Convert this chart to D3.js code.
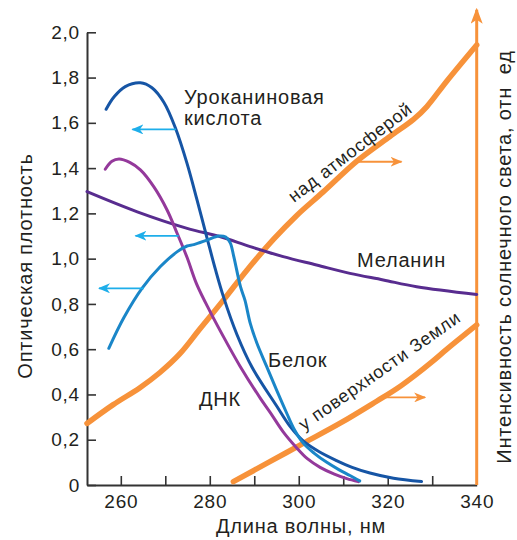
<!DOCTYPE html>
<html>
<head>
<meta charset="utf-8">
<script src="https://cdn.jsdelivr.net/npm/d3@7"></script>
<style>
  body { margin: 0; background: #fff; }
  svg text { font-family: "Liberation Sans", Arial, sans-serif; fill: #231f20; }
</style>
</head>
<body>
<svg id="chart" width="517" height="540"></svg>
<script>
// DATA: [wavelength nm, value]
const xTicks = [260, 270, 280, 290, 300, 310, 320, 330, 340]
const xLabels = [260, 280, 300, 320, 340]
const yTicks = [0, 0.2, 0.4, 0.6, 0.8, 1.0, 1.2, 1.4, 1.6, 1.8, 2.0]

const urocanic = [
  [256.7, 1.66], [258.5, 1.715], [261, 1.76], [264.4, 1.777], [267, 1.755],
  [269.7, 1.69], [272.3, 1.576], [274.9, 1.42], [277.1, 1.262], [279.4, 1.09],
  [281.3, 0.95], [283.1, 0.83], [286.1, 0.665], [289.5, 0.52], [295, 0.35],
  [298, 0.26], [301, 0.195], [304.5, 0.148], [308.5, 0.108], [312, 0.078],
  [316, 0.053], [321.3, 0.03], [327.6, 0.015],
]
const protein = [
  [257.3, 0.604], [260.7, 0.74], [264.8, 0.87], [268.9, 0.965], [272.7, 1.031],
  [274.9, 1.056], [276.4, 1.062], [279.4, 1.082], [282, 1.1], [283.6, 1.095],
  [284.6, 1.07], [285.4, 1.009], [286.9, 0.876], [287.9, 0.817], [289.1, 0.714],
  [290.6, 0.626], [292.8, 0.523], [295, 0.42], [297.3, 0.317], [299, 0.245],
  [301, 0.185], [303.5, 0.14], [306.3, 0.1], [309, 0.068], [311.5, 0.042],
  [313.7, 0.018],
]
const dna = [
  [256.5, 1.395], [258, 1.43], [259.6, 1.44], [262, 1.425], [264.4, 1.392],
  [267.4, 1.318], [270.4, 1.215], [272.7, 1.11], [274.9, 1.005], [277.1, 0.885],
  [280.1, 0.765], [283.5, 0.64], [286.8, 0.525], [291.3, 0.385], [293.6, 0.32],
  [296.5, 0.235], [299.5, 0.165], [302, 0.115], [304.8, 0.078], [308, 0.048],
  [310.8, 0.028], [313.4, 0.015],
]
const melanin = [
  [252.4, 1.296], [263.7, 1.207], [274.9, 1.134], [282.4, 1.097], [289.1, 1.053],
  [296.5, 1.009], [304, 0.972], [311.5, 0.935], [319, 0.906], [326.5, 0.876],
  [340, 0.842],
]
const aboveAtmosphere = [
  [252.4, 0.272], [258.3, 0.355], [264.3, 0.43], [268.8, 0.497], [273.3, 0.58],
  [277.8, 0.69], [283.1, 0.818], [288.3, 0.948], [294.3, 1.085], [299.5, 1.19],
  [305.5, 1.295], [313, 1.43], [320.5, 1.54], [325.8, 1.615], [328.8, 1.672],
  [333.3, 1.785], [340, 1.944],
]
const earthSurface = [
  [285.3, 0.015], [293.5, 0.103], [301, 0.184], [309.3, 0.273], [317.5, 0.37],
  [322, 0.425], [326.5, 0.49], [330, 0.545], [333.3, 0.6], [340, 0.707],
]

// arrows pointing to the axis each curve belongs to
const axisArrows = [
  { from: 272.4, to: 262.6, value: 1.571, kind: 'left' },
  { from: 273.0, to: 263.3, value: 1.101, kind: 'left' },
  { from: 265.2, to: 255.1, value: 0.869, kind: 'left' },
  { from: 313.4, to: 323.1, value: 1.428, kind: 'right' },
  { from: 319.0, to: 328.4, value: 0.387, kind: 'right' },
]

const orange = '#f7923a'
const cyan = '#1eaeea'

// SIZES
const margin = { top: 32.3, right: 40.3, bottom: 55, left: 87 }
const width = 517
const height = 540

const svg = d3.select('#chart')

// SCALES
const x = d3.scaleLinear()
  .domain([252.4, 340])
  .range([margin.left, width - margin.right])

const y = d3.scaleLinear()
  .domain([0, 2])
  .range([height - margin.bottom, margin.top])

// MARKERS
const defs = svg.append('defs')
const addMarker = (id, color) => {
  defs.append('marker')
    .attr('id', id)
    .attr('viewBox', '0 0 12 10')
    .attr('refX', 11)
    .attr('refY', 5)
    .attr('markerWidth', 12)
    .attr('markerHeight', 10)
    .attr('markerUnits', 'userSpaceOnUse')
    .attr('orient', 'auto')
    .append('path')
    .attr('d', 'M0,0 L12,5 L0,10 L3.5,5 Z')
    .attr('fill', color)
}
addMarker('arrowCyan', cyan)
addMarker('arrowOrange', orange)
defs.append('marker')
  .attr('id', 'arrowAxis')
  .attr('viewBox', '0 0 16 12')
  .attr('refX', 14)
  .attr('refY', 6)
  .attr('markerWidth', 16)
  .attr('markerHeight', 12)
  .attr('markerUnits', 'userSpaceOnUse')
  .attr('orient', 'auto')
  .append('path')
  .attr('d', 'M0,0 L16,6 L0,12 L4,6 Z')
  .attr('fill', orange)

// X AXIS
const xAxis = d3.axisBottom(x)
  .tickValues(xTicks)
  .tickSizeInner(-9)
  .tickSizeOuter(0)
  .tickPadding(9.5)
  .tickFormat(d => xLabels.includes(d) ? d : '')

const gx = svg.append('g')
  .attr('transform', `translate(0,${y(0)})`)
  .call(xAxis)
gx.select('.domain').attr('stroke', '#333').attr('stroke-width', 2)
gx.selectAll('.tick line').attr('stroke', '#333').attr('stroke-width', 1.6)
gx.selectAll('.tick text')
  .attr('fill', '#231f20')
  .style('font-size', '19px')
  .style('letter-spacing', '0.8px')
  .style('font-family', '"Liberation Sans", Arial, sans-serif')

// Y AXIS
const yAxis = d3.axisLeft(y)
  .tickValues(yTicks)
  .tickSizeInner(-9)
  .tickSizeOuter(0)
  .tickPadding(7)
  .tickFormat(d => d === 0 ? '0' : d3.format('.1f')(d).replace('.', ','))

const gy = svg.append('g')
  .attr('transform', `translate(${x(252.4)},0)`)
  .call(yAxis)
gy.select('.domain').attr('stroke', '#333').attr('stroke-width', 2)
gy.selectAll('.tick line').attr('stroke', '#333').attr('stroke-width', 1.6)
gy.selectAll('.tick text')
  .attr('fill', '#231f20')
  .style('font-size', '19px')
  .style('letter-spacing', '0.8px')
  .style('font-family', '"Liberation Sans", Arial, sans-serif')

// RIGHT (ORANGE) AXIS
svg.append('line')
  .attr('x1', x(340)).attr('x2', x(340))
  .attr('y1', y(0)).attr('y2', y(2.1))
  .attr('stroke', orange)
  .attr('stroke-width', 3)
  .attr('marker-end', 'url(#arrowAxis)')

// CURVES
const line = d3.line()
  .x(d => x(d[0]))
  .y(d => y(d[1]))
  .curve(d3.curveCatmullRom.alpha(0.5))

const series = [
  { data: aboveAtmosphere, color: orange, w: 5.5 },
  { data: earthSurface, color: orange, w: 5.5 },
  { data: melanin, color: '#582c8f', w: 3 },
  { data: dna, color: '#94399b', w: 3 },
  { data: urocanic, color: '#1655a5', w: 3 },
  { data: protein, color: '#1a86c8', w: 3 },
]

svg.append('g')
  .selectAll('path')
  .data(series)
  .join('path')
  .attr('d', d => line(d.data))
  .attr('fill', 'none')
  .attr('stroke', d => d.color)
  .attr('stroke-width', d => d.w)
  .attr('stroke-linecap', 'round')

// SMALL ARROWS
svg.append('g')
  .selectAll('line')
  .data(axisArrows)
  .join('line')
  .attr('x1', d => x(d.from))
  .attr('x2', d => x(d.to))
  .attr('y1', d => y(d.value))
  .attr('y2', d => y(d.value))
  .attr('stroke', d => d.kind === 'left' ? cyan : orange)
  .attr('stroke-width', 1.8)
  .attr('marker-end', d => d.kind === 'left' ? 'url(#arrowCyan)' : 'url(#arrowOrange)')

// LABELS
const label = (text, px, py, size, rotate = 0) => svg.append('text')
  .attr('transform', `translate(${px},${py}) rotate(${rotate})`)
  .style('font-size', `${size}px`)
  .style('letter-spacing', '0.8px')
  .style('white-space', 'pre')
  .text(text)

label('Уроканиновая', 184, 104, 20)
label('кислота', 184, 125, 20)
label('Меланин', 357, 267, 20)
label('Белок', 268, 367, 20)
label('ДНК', 199, 406, 20)
label('над атмосферой', 294, 203, 18, -37.5)
label('у поверхности Земли', 304, 431, 18, -35)

// AXIS TITLES
label('Длина волны, нм', 301, 533, 20).attr('text-anchor', 'middle')
label('Оптическая плотность', 32, 266, 20, -90).attr('text-anchor', 'middle')
label('Интенсивность солнечного света, отн  ед', 511, 257, 20, -90).attr('text-anchor', 'middle')
</script>
</body>
</html>
